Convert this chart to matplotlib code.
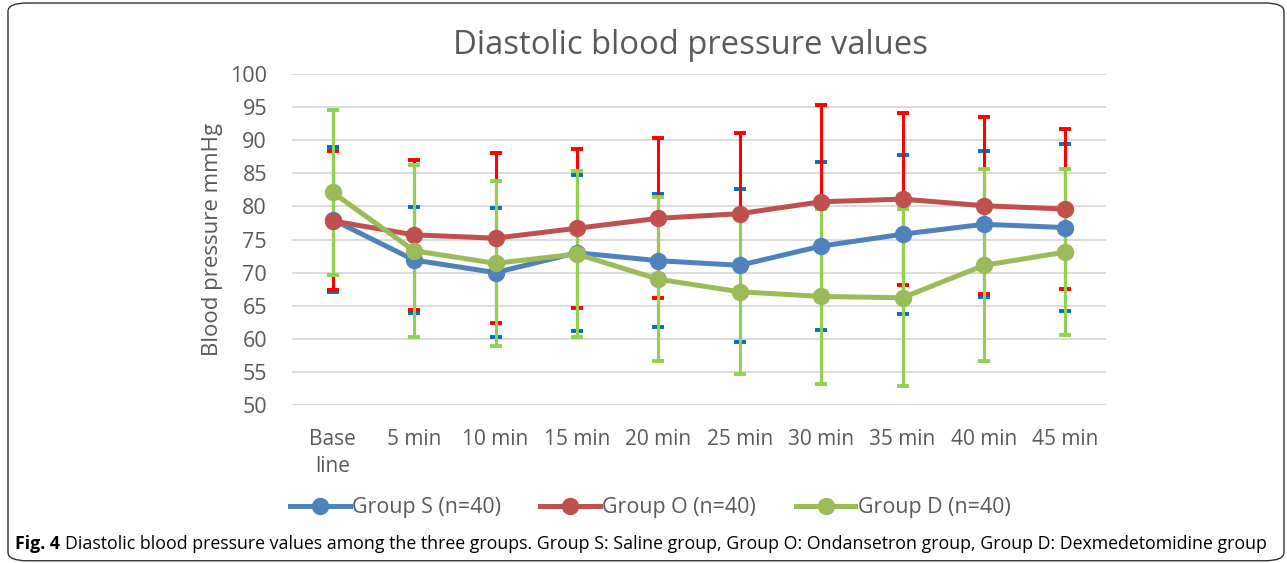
import matplotlib
matplotlib.use("Agg")
import matplotlib.pyplot as plt
from matplotlib.patches import FancyBboxPatch
from matplotlib.lines import Line2D

# data
times = ["Base\nline", "5 min", "10 min", "15 min", "20 min", "25 min",
         "30 min", "35 min", "40 min", "45 min"]
group_s = [78.0, 71.9, 70.0, 73.0, 71.8, 71.1, 74.0, 75.8, 77.3, 76.8]
group_o = [77.8, 75.7, 75.2, 76.7, 78.2, 78.9, 80.7, 81.1, 80.1, 79.6]
group_d = [82.1, 73.3, 71.4, 72.8, 69.0, 67.1, 66.4, 66.2, 71.1, 73.1]
sd_s = [11.0, 8.0, 9.7, 11.8, 10.0, 11.6, 12.7, 12.0, 11.0, 12.6]
sd_o = [10.5, 11.3, 12.8, 12.0, 12.1, 12.2, 14.6, 13.0, 13.4, 12.1]
sd_d = [12.5, 13.0, 12.5, 12.5, 12.4, 12.4, 13.2, 13.4, 14.5, 12.5]
labels = ["Group S (n=40)", "Group O (n=40)", "Group D (n=40)"]

line_cols = ["#4F81BD", "#C0504D", "#9BBB59"]
err_cols = ["#0070C0", "#FF0000", "#92D050"]

plt.rcParams['font.family'] = ['Open Sans', 'DejaVu Sans']

fig = plt.figure(figsize=(12.87, 5.63), dpi=100)
ax = fig.add_axes([292/1287, 1-405/563, 814/1287, 331/563])

x = list(range(len(times)))
series = [group_s, group_o, group_d]
sds = [sd_s, sd_o, sd_d]

# error bars first, lines drawn on top
for vals, sd, ec in zip(series, sds, err_cols):
    ax.errorbar(x, vals, yerr=sd, fmt='none', ecolor=ec, elinewidth=2.2,
                capsize=4.5, capthick=2.8, zorder=2)

for vals, col, lab in zip(series, line_cols, labels):
    ax.plot(x, vals, color=col, lw=3.6, marker='o', ms=11.5, label=lab,
            zorder=3)

ax.set_xlim(-0.5, 9.5)
ax.set_ylim(50, 100)
ax.set_yticks(range(50, 101, 5))
ax.set_xticks(x)
ax.set_xticklabels(times, linespacing=1.4)
ax.tick_params(length=0, colors='#595959')
ax.tick_params(axis='x', pad=17, labelsize=15)
ax.tick_params(axis='y', pad=18, labelsize=15.5)
ax.grid(axis='y', color='#D9D9D9', lw=1.3)
ax.set_axisbelow(True)
for s in ax.spines.values():
    s.set_visible(False)
ax.set_ylabel("Blood pressure mmHg", fontsize=16, color='#595959', labelpad=5)

fig.text(690/1287, 1-45/563, "Diastolic blood pressure values", ha='center',
         va='center', fontsize=23.6, color='#595959')

handles = [Line2D([], [], color=c, lw=3.6, marker='o', ms=11.5) for c in line_cols]
fig.legend(handles, labels, loc='center', bbox_to_anchor=(650/1287, 1-508/563),
           ncol=3, frameon=False, fontsize=15.4, handlelength=2.8,
           handletextpad=0.1, columnspacing=1.85, labelcolor='#595959')

# outer frame
fig.patches.append(FancyBboxPatch((8/1287, 0.004), 1276/1287, 1-0.004-3/563,
                                  boxstyle="round,pad=0,rounding_size=0.015",
                                  transform=fig.transFigure, fill=False,
                                  ec='#333333', lw=1.0))

# caption
cap_font = ['Open Sans', 'DejaVu Sans']
t1 = fig.text(15/1287, 1-544/563, "Fig. 4", fontsize=12.8, fontweight='bold',
              family=cap_font, va='center', ha='left')
fig.canvas.draw()
bb = t1.get_window_extent(fig.canvas.get_renderer())
fig.text((bb.x1 + 5)/1287, 1-544/563,
         "Diastolic blood pressure values among the three groups. Group S: Saline group, "
         "Group O: Ondansetron group, Group D: Dexmedetomidine group",
         fontsize=12.8, family=cap_font, va='center', ha='left')

fig.savefig("out.png", dpi=100)
